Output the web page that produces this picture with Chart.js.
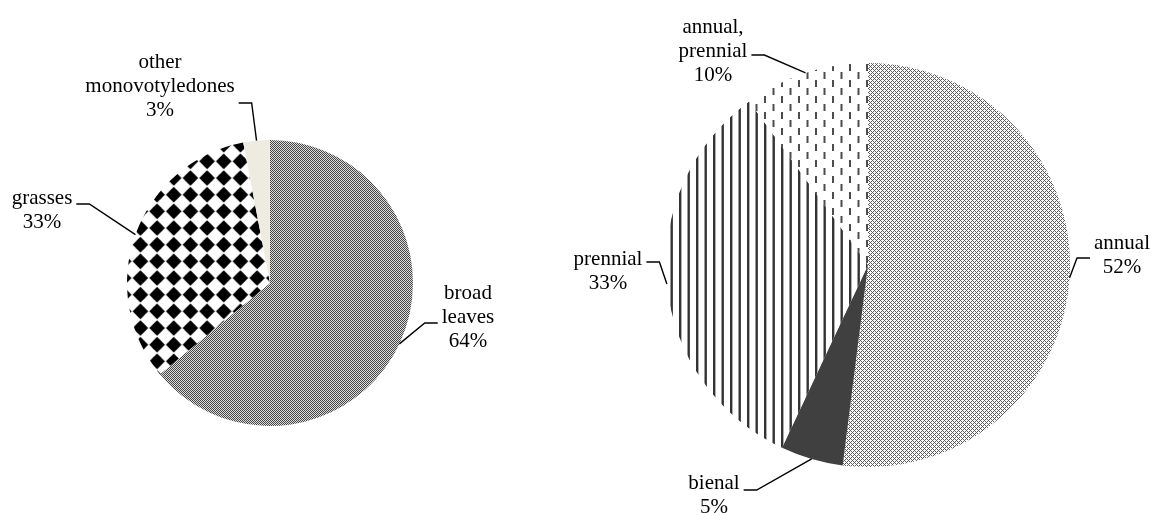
<!DOCTYPE html>
<html>
<head>
<meta charset="utf-8">
<script src="https://cdn.jsdelivr.net/npm/chart.js@4"></script>
<style>
  html, body { margin: 0; padding: 0; background: #fff; }
  #wrap { position: relative; width: 1164px; height: 513px; overflow: hidden; }
  canvas { position: absolute; top: 0; }
  #weedGroups { left: 0; }
  #lifeCycles { left: 560px; }
</style>
</head>
<body>
<div id="wrap">
  <canvas id="weedGroups" width="560" height="513"></canvas>
  <canvas id="lifeCycles" width="604" height="513"></canvas>
</div>
<script>
// Weed groups
const groupNames = ['broad leaves', 'grasses', 'other monovotyledones'];
const groupShares = [64, 33, 3];

// Life cycles
const cycleNames = ['annual', 'bienal', 'prennial', 'annual, prennial'];
const cycleShares = [52, 5, 33, 10];

// ---- fill patterns ----
function makePattern(w, h, paint, ox = 0, oy = 0) {
  const c = document.createElement('canvas');
  c.width = w; c.height = h;
  const g = c.getContext('2d');
  g.fillStyle = '#ffffff';
  g.fillRect(0, 0, w, h);
  paint(g);
  const p = g.createPattern(c, 'repeat');
  if (ox || oy) p.setTransform(new DOMMatrix([1, 0, 0, 1, ox, oy]));
  return p;
}

// fine grey checkerboard
const fineChecker = makePattern(2, 2, g => {
  g.fillStyle = '#474747';
  g.fillRect(0, 0, 1, 1); g.fillRect(1, 1, 1, 1);
  g.fillStyle = '#dadada';
  g.fillRect(1, 0, 1, 1); g.fillRect(0, 1, 1, 1);
});

// light lattice of grey dots
const lightLattice = makePattern(4, 4, g => {
  g.fillStyle = '#5c5c5c';
  for (let x = 0; x < 4; x++) {
    for (let y = 0; y < 4; y++) {
      if ((x + y) % 4 === 0 || (x - y + 4) % 4 === 0) g.fillRect(x, y, 1, 1);
    }
  }
});

// black diamonds on white
const diamonds = makePattern(50, 50, g => {
  g.fillStyle = '#000000';
  const step = 50 / 3, a = 7.8, rr = 5.3;
  for (let i = 0; i < 3; i++) {
    for (let j = 0; j < 3; j++) {
      const cx = step / 2 + i * step, cy = step / 2 + j * step;
      g.beginPath();
      g.moveTo(cx, cy - a); g.lineTo(cx + a, cy); g.lineTo(cx, cy + a); g.lineTo(cx - a, cy);
      g.closePath(); g.fill();
      g.beginPath(); g.arc(cx, cy, rr, 0, Math.PI * 2); g.fill();
    }
  }
}, -1.3, 3);

// vertical stripes
const stripes = makePattern(17, 4, g => {
  g.fillStyle = '#333333';
  g.fillRect(0, 0, 2.4, 4);
  g.fillRect(8.5, 0, 2.4, 4);
});

// dashed vertical lines, staggered
const dashes = makePattern(17, 16, g => {
  g.fillStyle = '#4d4d4d';
  g.fillRect(0, 0, 2, 7);
  g.fillRect(8.5, 8, 2, 7);
});

// ---- labels with leader lines ----
const leaderLabels = {
  id: 'leaderLabels',
  afterDatasetsDraw(chart, args, opts) {
    const { ctx } = chart;
    const meta = chart.getDatasetMeta(0);
    const names = chart.data.labels;
    const values = chart.data.datasets[0].data;
    ctx.save();
    ctx.font = opts.font;
    ctx.fillStyle = '#000';
    ctx.strokeStyle = '#000';
    ctx.lineWidth = opts.lineWidth;
    ctx.textAlign = 'center';
    ctx.textBaseline = 'middle';
    meta.data.forEach((arc, i) => {
      const { x, y, startAngle, endAngle, outerRadius } =
        arc.getProps(['x', 'y', 'startAngle', 'endAngle', 'outerRadius'], true);
      const mid = (startAngle + endAngle) / 2;
      const px = x + outerRadius * Math.cos(mid);
      const py = y + outerRadius * Math.sin(mid);
      const pl = opts.placements[i];
      const lines = names[i].split(' ').concat(values[i] + '%');
      const cx = x + pl.dx, cy = y + pl.dy;
      const widest = Math.max(...lines.map(t => ctx.measureText(t).width));
      const onRight = pl.dx > 0;
      const inner = onRight ? cx - widest / 2 - opts.gap : cx + widest / 2 + opts.gap;
      const outer = onRight ? inner - opts.stub : inner + opts.stub;
      const sy = cy + pl.stubY;
      ctx.beginPath();
      ctx.moveTo(px, py);
      ctx.lineTo(outer, sy);
      ctx.lineTo(inner, sy);
      ctx.stroke();
      const top = cy - (lines.length - 1) * opts.lineHeight / 2;
      lines.forEach((t, k) => ctx.fillText(t, cx, top + k * opts.lineHeight));
    });
    ctx.restore();
  }
};

function pieConfig(names, shares, fills, padding, placements) {
  return {
    type: 'pie',
    data: {
      labels: names,
      datasets: [{
        data: shares,
        backgroundColor: fills,
        borderWidth: 0,
        hoverOffset: 0
      }]
    },
    options: {
      responsive: false,
      animation: false,
      events: [],
      layout: { padding },
      plugins: {
        legend: { display: false },
        tooltip: { enabled: false },
        leaderLabels: {
          font: '21px "Liberation Serif", "Times New Roman", serif',
          lineHeight: 24,
          lineWidth: 1.4,
          gap: 4,
          stub: 13,
          placements
        }
      }
    },
    plugins: [leaderLabels]
  };
}

new Chart(document.getElementById('weedGroups'), pieConfig(
  groupNames, groupShares,
  [fineChecker, diamonds, '#eeebe1'],
  { left: 127, right: 147, top: 140, bottom: 87 },
  [
    { dx: 198, dy: 34, stubY: 6 },
    { dx: -228, dy: -73, stubY: -6 },
    { dx: -110, dy: -197, stubY: 17 }
  ]
));

new Chart(document.getElementById('lifeCycles'), pieConfig(
  cycleNames, cycleShares,
  [lightLattice, '#404040', stripes, dashes],
  { left: 106, right: 94, top: 63, bottom: 46 },
  [
    { dx: 254, dy: -10, stubY: 3 },
    { dx: -154, dy: 230, stubY: -5 },
    { dx: -260, dy: 6, stubY: -9 },
    { dx: -155, dy: -214, stubY: 4 }
  ]
));
</script>
</body>
</html>
